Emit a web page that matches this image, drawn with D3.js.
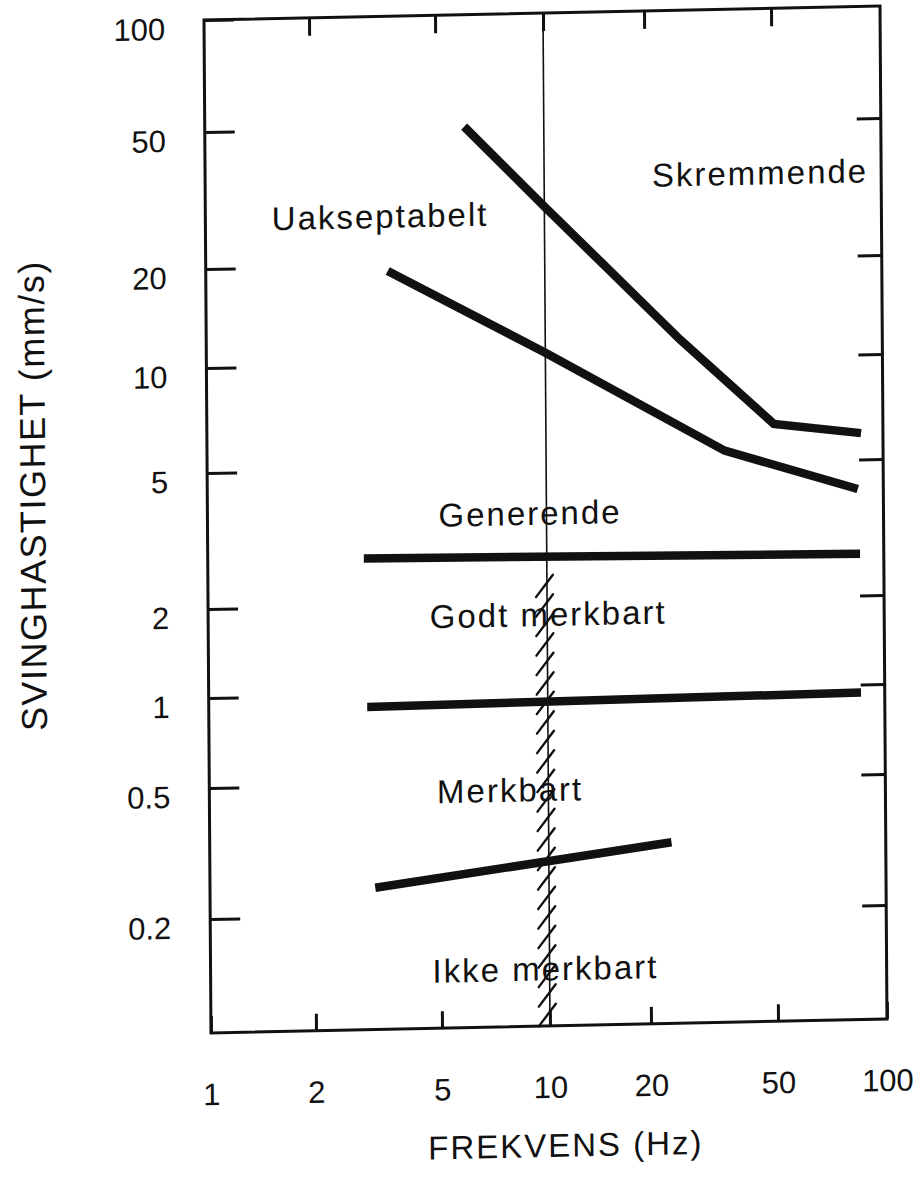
<!DOCTYPE html>
<html><head><meta charset="utf-8">
<script src="https://cdn.jsdelivr.net/npm/d3@7/dist/d3.min.js"></script>
<style>
html,body{margin:0;padding:0;background:#fff;}
svg{display:block;}
text{font-family:"Liberation Sans",Arial,Helvetica,sans-serif;fill:#111;}
</style></head><body>
<svg id="chart" width="918" height="1180"></svg>
<script>
// ---- data ----
const frequencyTicks = [1, 2, 5, 10, 20, 50, 100];
const velocityTicks = [100, 50, 20, 10, 5, 2, 1, 0.5, 0.2, 0.1];
const velocityTickLabels = [100, 50, 20, 10, 5, 2, 1, 0.5, 0.2];
const frequencyInnerTicks = [2, 5, 10, 20, 50];
const velocityInnerTicks = [50, 20, 10, 5, 2, 1, 0.5, 0.2];

const skremmendeFreq = [6, 10, 25.5, 50, 87];
const skremmendeVel  = [50, 29, 11.4, 6.4, 5.95];
const uakseptabeltFreq = [3.5, 10, 35, 85];
const uakseptabeltVel  = [19.2, 10.6, 5.4, 4.1];
const generendeFreq = [2.9, 86];
const generendeVel  = [2.75, 2.65];
const godtMerkbartFreq = [2.95, 86];
const godtMerkbartVel  = [0.91, 0.94];
const merkbartFreq = [3.1, 23.4];
const merkbartVel  = [0.243, 0.32];

const referenceFreq = 10;
const hatchVelRange = [2.4, 0.1];

const zoneNames = ["Uakseptabelt", "Skremmende", "Generende", "Godt merkbart", "Merkbart", "Ikke merkbart"];
const zoneFreq  = [1.55, 21, 5.0, 4.67, 4.88, 4.68];
const zoneVel   = [25.7, 32.6, 3.37, 1.66, 0.435, 0.132];

const xTitle = "FREKVENS (Hz)";
const yTitle = "SVINGHASTIGHET (mm/s)";

// ---- layout ----
const xStops = [0, 105, 231, 339, 440, 567, 676];
const yStops = [0, 112, 249, 348, 453, 589, 678, 768, 899, 1013];
const ink = "#111";

const x = d3.scaleLog().domain(frequencyTicks).range(xStops);
const y = d3.scaleLog().domain(velocityTicks).range(yStops);

const svg = d3.select("#chart");
svg.append("rect").attr("width", 918).attr("height", 1180).attr("fill", "#fff");
// slight skew to mimic the scanned page
const g = svg.append("g").attr("transform", "matrix(1,-0.0207,0.0069,1,204,20)");

const W = x(100), H = y(0.1);

function styleAxis(sel, size) {
  sel.select(".domain").remove();
  sel.attr("color", ink).attr("font-family", '"Liberation Sans",Arial,sans-serif').attr("font-size", size);
  sel.selectAll(".tick line").attr("stroke-width", 3);
}

// axes
g.append("g").call(d3.axisLeft(y).tickValues(velocityTickLabels).tickSizeInner(-30).tickSizeOuter(0).tickPadding(39).tickFormat(d => d))
  .call(s => styleAxis(s, 31))
  .call(s => s.selectAll("text").attr("dy", "0.6em"));
g.append("g").attr("transform", `translate(${W},0)`)
  .call(d3.axisRight(y).tickValues(velocityInnerTicks).tickSizeInner(-24).tickSizeOuter(0).tickFormat(""))
  .call(s => styleAxis(s, 31));
g.append("g").call(d3.axisTop(x).tickValues(frequencyInnerTicks).tickSizeInner(-18).tickSizeOuter(0).tickFormat(""))
  .call(s => styleAxis(s, 31));
g.append("g").attr("transform", `translate(0,${H})`)
  .call(d3.axisBottom(x).tickValues(frequencyTicks).tickSizeInner(-17).tickSizeOuter(0).tickPadding(50).tickFormat(d => d))
  .call(s => styleAxis(s, 31));

// box
g.append("rect").attr("x", x(1)).attr("y", y(100)).attr("width", W).attr("height", H)
  .attr("fill", "none").attr("stroke", ink).attr("stroke-width", 3);

// reference line at 10 Hz
g.append("line").attr("x1", x(referenceFreq)).attr("x2", x(referenceFreq))
  .attr("y1", y(100)).attr("y2", y(0.1)).attr("stroke", ink).attr("stroke-width", 1.6);

// hatching along 10 Hz
const hx = x(referenceFreq);
const hTop = y(hatchVelRange[0]), hBot = y(hatchVelRange[1]);
const hatch = g.append("g").attr("stroke", ink).attr("stroke-width", 2.4).attr("stroke-linecap", "round");
for (let py = hTop + 11; py <= hBot - 10; py += 19.5) {
  hatch.append("line").attr("x1", hx - 11).attr("y1", py + 11).attr("x2", hx + 6).attr("y2", py - 11);
}

// limit lines
const line = d3.line().x(d => x(d[0])).y(d => y(d[1]));
const series = [
  [skremmendeFreq, skremmendeVel],
  [uakseptabeltFreq, uakseptabeltVel],
  [generendeFreq, generendeVel],
  [godtMerkbartFreq, godtMerkbartVel],
  [merkbartFreq, merkbartVel]
];
series.forEach(([fx, vy]) => {
  g.append("path").datum(fx.map((f, i) => [f, vy[i]]))
    .attr("d", line).attr("fill", "none").attr("stroke", ink)
    .attr("stroke-width", 8.5).attr("stroke-linejoin", "miter").attr("stroke-linecap", "butt");
});

// zone labels
zoneNames.forEach((name, i) => {
  g.append("text").attr("x", x(zoneFreq[i])).attr("y", y(zoneVel[i]))
    .attr("font-size", 33).attr("letter-spacing", 2).text(name);
});

// axis titles
g.append("text").attr("x", W / 2 + 16).attr("y", H + 131)
  .attr("text-anchor", "middle").attr("font-size", 33).attr("letter-spacing", 2).text(xTitle);
g.append("text").attr("transform", `translate(-162,${H * 0.466}) rotate(-90)`)
  .attr("text-anchor", "middle").attr("font-size", 36).attr("letter-spacing", 1.5).text(yTitle);
</script>
</body></html>
